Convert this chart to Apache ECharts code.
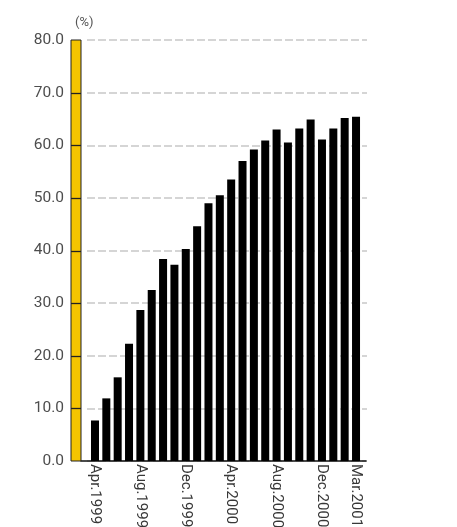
<!DOCTYPE html>
<html>
<head>
<meta charset="utf-8">
<script src="https://cdn.jsdelivr.net/npm/echarts@6/dist/echarts.min.js"></script>
<style>
  html, body { margin: 0; padding: 0; background: #fff; }
  #chart { width: 457px; height: 527px; }
</style>
</head>
<body>
<div id="chart"></div>
<script>
// Monthly share (%), April 1999 – March 2001
const months = [
  'Apr.1999', 'May.1999', 'Jun.1999', 'Jul.1999', 'Aug.1999', 'Sep.1999',
  'Oct.1999', 'Nov.1999', 'Dec.1999', 'Jan.2000', 'Feb.2000', 'Mar.2000',
  'Apr.2000', 'May.2000', 'Jun.2000', 'Jul.2000', 'Aug.2000', 'Sep.2000',
  'Oct.2000', 'Nov.2000', 'Dec.2000', 'Jan.2001', 'Feb.2001', 'Mar.2001'
];
const shares = [
  7.7, 11.9, 15.9, 22.3, 28.7, 32.5, 38.4, 37.3, 40.3, 44.6, 49.0, 50.5,
  53.5, 57.0, 59.2, 60.9, 63.0, 60.5, 63.2, 64.9, 61.1, 63.2, 65.2, 65.4
];
// months whose names are printed under the axis
const labelledMonths = ['Apr.1999', 'Aug.1999', 'Dec.1999', 'Apr.2000', 'Aug.2000', 'Dec.2000', 'Mar.2001'];
// value-axis range and tick step
const yMin = 0, yMax = 80, yStep = 10;
// tick marks drawn across the yellow scale strip
const stripTicks = [10, 20, 30, 40, 50, 60, 70];

const TOP = 40, BOTTOM = 527 - 461;
const STRIP_LEFT = 71, STRIP_WIDTH = 10;
const font = 'Roboto, "Noto Sans", sans-serif';
const gridBase = { top: TOP, bottom: BOTTOM, outerBoundsMode: 'none', containLabel: false };

const chart = echarts.init(document.getElementById('chart'), null, { renderer: 'canvas' });
chart.setOption({
  animation: false,
  backgroundColor: '#fff',
  title: {
    text: '(%)', left: 70, top: 11,
    textStyle: { fontFamily: font, fontSize: 13, fontWeight: 'normal', color: '#555' }
  },
  grid: [
    Object.assign({ left: 87, right: 457 - 367 }, gridBase),   // gridlines + value labels
    Object.assign({ left: 89.3, width: 272.4 }, gridBase),     // bars
    Object.assign({ left: 81, width: 285 }, gridBase)          // baseline
  ],
  xAxis: [
    { gridIndex: 0, type: 'value', show: false },
    {
      gridIndex: 1, type: 'category', data: months,
      axisLine: { show: false }, axisTick: { show: false },
      axisLabel: {
        rotate: -90, margin: 3, fontFamily: font, fontSize: 15, color: '#383838',
        interval: (i, v) => labelledMonths.includes(v)
      }
    },
    {
      gridIndex: 2, type: 'value', min: 0, max: 1,
      axisLine: { show: true, lineStyle: { color: '#111', width: 1.5 } },
      axisTick: { show: false }, axisLabel: { show: false }, splitLine: { show: false }
    }
  ],
  yAxis: [
    {
      gridIndex: 0, type: 'value', min: yMin, max: yMax, interval: yStep,
      axisLine: { show: false }, axisTick: { show: false },
      axisLabel: {
        margin: 23, fontFamily: font, fontSize: 15.5, color: '#4d4d4d',
        formatter: v => v.toFixed(1)
      },
      splitLine: { lineStyle: { color: '#c8c8c8', width: 1.5, type: [8, 3] } }
    },
    { gridIndex: 1, type: 'value', min: yMin, max: yMax, show: false },
    { gridIndex: 2, type: 'value', min: yMin, max: yMax, show: false }
  ],
  series: [
    {
      type: 'bar', xAxisIndex: 1, yAxisIndex: 1, data: shares,
      barWidth: 8, itemStyle: { color: '#000' }
    }
  ]
});

// Yellow scale strip beside the value axis, positioned through the axis scale
const toY = v => chart.convertToPixel({ yAxisIndex: 0 }, v);
const yTop = toY(yMax), yBottom = toY(yMin);
chart.setOption({
  graphic: [
    {
      type: 'rect', z: 100, silent: true,
      shape: { x: STRIP_LEFT, y: yTop, width: STRIP_WIDTH, height: yBottom - yTop },
      style: { fill: '#f5c400', stroke: '#222', lineWidth: 1 }
    }
  ].concat(stripTicks.map(v => ({
    type: 'line', z: 101, silent: true,
    shape: { x1: STRIP_LEFT, y1: Math.round(toY(v)) + 0.5, x2: STRIP_LEFT + STRIP_WIDTH, y2: Math.round(toY(v)) + 0.5 },
    style: { stroke: '#222', lineWidth: 1.3 }
  })))
});
</script>
</body>
</html>
